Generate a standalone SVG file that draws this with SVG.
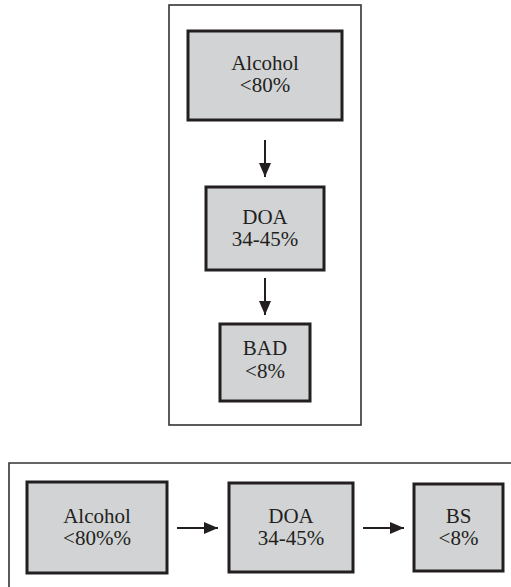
<svg xmlns="http://www.w3.org/2000/svg" width="511" height="587" viewBox="0 0 511 587">
<style>
.frame{fill:#fff;stroke:#333;stroke-width:1.6}
.box{fill:#d2d3d5;stroke:#231f20;stroke-width:3}
text{font-family:'Liberation Serif','DejaVu Serif','Times New Roman',serif;font-size:21px;fill:#231f20;text-anchor:middle}
.c{stroke:#231f20;stroke-width:2;fill:none;marker-end:url(#ah)}
</style>
<defs>
<marker id="ah" markerWidth="7" markerHeight="6" refX="7" refY="3" orient="auto" markerUnits="strokeWidth">
<path d="M0,0 L7,3 L0,6 Z" fill="#231f20"/>
</marker>
</defs>
<rect width="511" height="587" fill="#fff"/>
<g id="frame-top"><rect class="frame" x="169" y="5" width="192" height="420"/></g>
<g id="frame-bottom"><path class="frame" d="M9,600 V463 H520" fill="none"/></g>
<g id="connectors">
<line class="c" x1="265" y1="140" x2="265" y2="177"/>
<line class="c" x1="265" y1="278" x2="265" y2="315"/>
<line class="c" x1="177" y1="528" x2="218" y2="528"/>
<line class="c" x1="363" y1="528" x2="404" y2="528"/>
</g>
<g id="v-alcohol"><rect class="box" x="188" y="31" width="154" height="89"/><text font-family="Liberation Serif, serif" x="265" y="70">Alcohol</text><text font-family="Liberation Serif, serif" x="265" y="92">&lt;80%</text></g>
<g id="v-doa"><rect class="box" x="206" y="187" width="118" height="83"/><text font-family="Liberation Serif, serif" x="265" y="224">DOA</text><text font-family="Liberation Serif, serif" x="265" y="246">34-45%</text></g>
<g id="v-bad"><rect class="box" x="220" y="324" width="90" height="77"/><text font-family="Liberation Serif, serif" x="265" y="355">BAD</text><text font-family="Liberation Serif, serif" x="265" y="378">&lt;8%</text></g>
<g id="h-alcohol"><rect class="box" x="27" y="482" width="140" height="91"/><text font-family="Liberation Serif, serif" x="97" y="523">Alcohol</text><text font-family="Liberation Serif, serif" x="97" y="545">&lt;80%%</text></g>
<g id="h-doa"><rect class="box" x="229" y="483" width="124" height="89"/><text font-family="Liberation Serif, serif" x="291" y="523">DOA</text><text font-family="Liberation Serif, serif" x="291" y="545">34-45%</text></g>
<g id="h-bs"><rect class="box" x="414" y="484" width="89" height="87"/><text font-family="Liberation Serif, serif" x="458.5" y="523">BS</text><text font-family="Liberation Serif, serif" x="458.5" y="545">&lt;8%</text></g>
</svg>
